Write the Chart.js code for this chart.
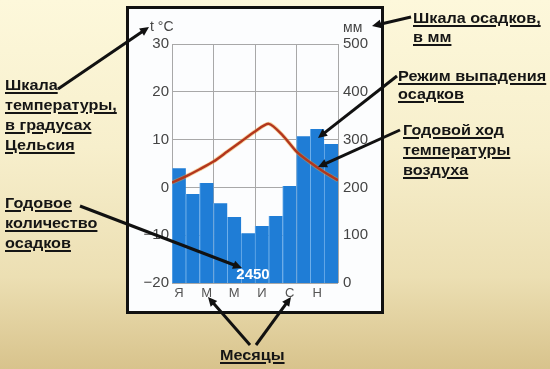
<!DOCTYPE html>
<html>
<head>
<meta charset="utf-8">
<script src="https://cdn.jsdelivr.net/npm/chart.js@4.4.0/dist/chart.umd.min.js"></script>
<style>
  html, body { margin: 0; padding: 0; }
  body {
    width: 550px; height: 369px; position: relative; overflow: hidden;
    background: linear-gradient(to bottom, #fdf8db 0%, #f7efcc 40%, #ecdfb3 75%, #d8c38c 100%);
    font-family: "Liberation Sans", Arial, sans-serif;
  }
  #box {
    position: absolute; left: 126px; top: 6px; width: 258px; height: 308px;
    box-sizing: border-box; border: 3px solid #111; background: #fcfdfe;
  }
  #c { position: absolute; left: 0; top: 0; }
  .lbl {
    position: absolute; font-weight: bold; font-size: 15px; line-height: 20px;
    color: #151515; white-space: nowrap;
    transform: scaleX(1.08); transform-origin: left top;
  }
  .lbl span { text-decoration: underline; text-decoration-thickness: 2px; text-underline-offset: 2px; }
</style>
</head>
<body>
<div id="box"></div>
<canvas id="c" width="550" height="369"></canvas>

<div class="lbl" style="left:5px; top:75px;"><span>Шкала</span><br><span>температуры,</span><br><span>в градусах</span><br><span>Цельсия</span></div>
<div class="lbl" style="left:5px; top:193px;"><span>Годовое</span><br><span>количество</span><br><span>осадков</span></div>
<div class="lbl" style="left:413px; top:8px; line-height:19px;"><span>Шкала осадков,</span><br><span>в мм</span></div>
<div class="lbl" style="left:398px; top:67px; line-height:18px;"><span>Режим выпадения</span><br><span>осадков</span></div>
<div class="lbl" style="left:403px; top:120px;"><span>Годовой ход</span><br><span>температуры</span><br><span>воздуха</span></div>
<div class="lbl" style="left:220px; top:345px;"><span>Месяцы</span></div>

<script>
// climate chart data
const months = ['Я', 'Ф', 'М', 'А', 'М', 'И', 'И', 'А', 'С', 'О', 'Н', 'Д'];
const precipitation = [240, 186, 209, 167, 138, 104, 119, 140, 203, 307, 322, 291];
const tempPos = [0, 1, 2, 3, 4, 5, 6, 7, 8, 9, 10, 11, 12];
const temperature = [1.0, 2.3, 3.8, 5.4, 7.5, 9.6, 11.7, 13.3, 10.9, 7.5, 5.2, 3.2, 1.5];
const tempTicks = [-20, -10, 0, 10, 20, 30];
const precipTicks = [0, 100, 200, 300, 400, 500];
const totalPrecip = '2450';

Chart.defaults.font.family = '"Liberation Sans", Arial, sans-serif';

const tempData = tempPos.map((p, i) => ({ x: p, y: temperature[i] }));

function drawArrow(ctx, x1, y1, x2, y2) {
  const ang = Math.atan2(y2 - y1, x2 - x1);
  const len = 10;
  ctx.beginPath();
  ctx.moveTo(x1, y1);
  ctx.lineTo(x2 - Math.cos(ang) * len * 0.7, y2 - Math.sin(ang) * len * 0.7);
  ctx.stroke();
  ctx.beginPath();
  ctx.moveTo(x2, y2);
  ctx.lineTo(x2 - len * Math.cos(ang - 0.45), y2 - len * Math.sin(ang - 0.45));
  ctx.lineTo(x2 - len * Math.cos(ang + 0.45), y2 - len * Math.sin(ang + 0.45));
  ctx.closePath();
  ctx.fill();
}

const extras = {
  id: 'extras',
  afterDraw(chart) {
    const { ctx, chartArea: a } = chart;
    ctx.save();
    // axis titles
    ctx.fillStyle = '#444';
    ctx.font = '14px "Liberation Sans", Arial';
    ctx.textBaseline = 'middle';
    ctx.textAlign = 'left';
    ctx.fillText('t °C', a.left - 22, a.top - 17);
    ctx.fillText('мм', a.right + 5, a.top - 16);
    // total precipitation
    ctx.fillStyle = '#fff';
    ctx.font = 'bold 15px "Liberation Sans", Arial';
    ctx.textAlign = 'center';
    ctx.fillText(totalPrecip, (a.left + a.right) / 2 - 2, a.bottom - 8);
    // pointer arrows
    ctx.strokeStyle = '#111';
    ctx.fillStyle = '#111';
    ctx.lineWidth = 3;
    drawArrow(ctx, 58, 89, 149, 27);
    drawArrow(ctx, 411, 17, 372, 26);
    drawArrow(ctx, 397, 76, 318, 138);
    drawArrow(ctx, 400, 130, 318, 167);
    drawArrow(ctx, 80, 206, 242, 268);
    drawArrow(ctx, 250, 345, 208, 297);
    drawArrow(ctx, 256, 345, 291, 297);
    ctx.restore();
  }
};

const minus = v => String(v).replace('-', '\u2212');

new Chart(document.getElementById('c'), {
  data: {
    labels: months,
    datasets: [
      {
        type: 'line', data: tempData, xAxisID: 'x2', yAxisID: 'y',
        borderColor: '#b3361d', borderWidth: 2.4, pointRadius: 0, tension: 0.25, order: 1
      },
      {
        type: 'line', data: tempData, xAxisID: 'x2', yAxisID: 'y',
        borderColor: 'rgba(242,155,40,0.45)', borderWidth: 4, pointRadius: 0, tension: 0.25, order: 2
      },
      {
        type: 'bar', data: precipitation, xAxisID: 'x', yAxisID: 'y1',
        backgroundColor: '#1f7dd6', borderColor: '#6daeea',
        borderWidth: { left: 1, top: 0, right: 0, bottom: 0 },
        barPercentage: 1, categoryPercentage: 1, grouped: false, order: 3
      }
    ]
  },
  options: {
    responsive: false,
    animation: false,
    events: [],
    layout: { padding: { left: 132, right: 172, top: 44, bottom: 62 } },
    plugins: { legend: { display: false }, tooltip: { enabled: false } },
    scales: {
      x: {
        type: 'category', position: 'bottom',
        grid: { display: false, drawTicks: false }, border: { display: false },
        ticks: {
          autoSkip: false, maxRotation: 0, padding: 3, color: '#555', font: { size: 13 },
          callback: (v, i) => (i % 2 === 0 ? months[i] : '')
        },
        afterFit: s => { s.height = 24; }
      },
      x2: {
        type: 'linear', position: 'top', min: 0, max: 12,
        ticks: { display: false, stepSize: 3 },
        grid: { color: '#a8a8a8', drawTicks: false },
        border: { display: false },
        afterFit: s => { s.height = 0; }
      },
      y: {
        position: 'left', min: tempTicks[0], max: tempTicks[tempTicks.length - 1],
        ticks: { stepSize: 10, padding: 3, color: '#444', font: { size: 15 }, callback: v => minus(v) },
        grid: { color: '#a8a8a8', drawTicks: false },
        border: { display: false },
        afterFit: s => { s.width = 40; }
      },
      y1: {
        position: 'right', min: precipTicks[0], max: precipTicks[precipTicks.length - 1],
        ticks: { stepSize: 100, padding: 5, color: '#444', font: { size: 15 } },
        grid: { display: false, drawTicks: false },
        border: { display: false },
        afterFit: s => { s.width = 40; }
      }
    }
  },
  plugins: [extras]
});
</script>
</body>
</html>
